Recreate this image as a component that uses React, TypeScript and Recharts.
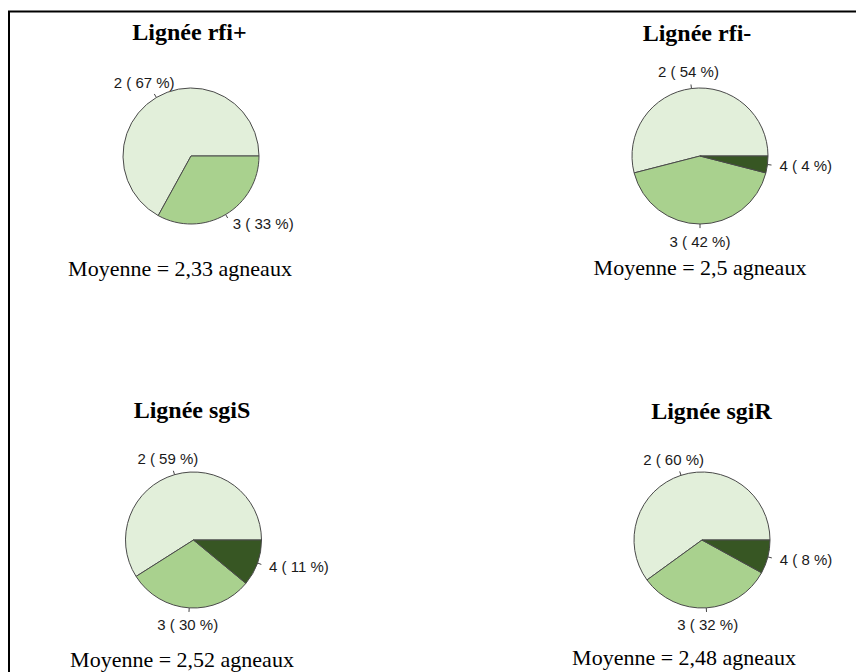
import React from 'react';
import { PieChart, Pie, Cell } from 'recharts';

const categories = ['2', '3', '4'];
const rfiPlus = [67, 33];
const rfiMinus = [54, 42, 4];
const sgiS = [59, 30, 11];
const sgiR = [60, 32, 8];
const titles = ['Lignée rfi+', 'Lignée rfi-', 'Lignée sgiS', 'Lignée sgiR'];
const means = ['2,33', '2,5', '2,52', '2,48'];

const COLORS = ['#E2EFDA', '#A9D18E', '#375623'];

const toData = (vals: number[]) => vals.map((v, i) => ({ name: categories[i], value: v }));

const panels = [
  { data: toData(rfiPlus), cx: 191, cy: 156, tx: 189.5, ty: 40, mx: 180, my: 276 },
  { data: toData(rfiMinus), cx: 700, cy: 156, tx: 697, ty: 41, mx: 700, my: 275 },
  { data: toData(sgiS), cx: 193.5, cy: 540, tx: 192, ty: 418, mx: 182, my: 667 },
  { data: toData(sgiR), cx: 702, cy: 540, tx: 711.5, ty: 419, mx: 684, my: 665 },
];

const RADIUS = 68;
const RAD = Math.PI / 180;

const renderLabel = (p: any) => {
  const { cx, cy, midAngle, outerRadius, name, value } = p;
  const c = Math.cos(-midAngle * RAD);
  const s = Math.sin(-midAngle * RAD);
  const x1 = cx + outerRadius * c;
  const y1 = cy + outerRadius * s;
  const x2 = cx + outerRadius * 1.06 * c;
  const y2 = cy + outerRadius * 1.06 * s;
  let tx: number;
  let ty: number;
  let anchor: 'start' | 'middle' | 'end';
  if (c > 0.35) {
    tx = cx + outerRadius * 1.15 * c + 2;
    ty = cy + outerRadius * 1.15 * s;
    anchor = 'start';
  } else {
    tx = cx + 92 * c;
    ty = cy + 85 * s;
    anchor = 'middle';
  }
  return (
    <g>
      <line x1={x1} y1={y1} x2={x2} y2={y2} stroke="#444" strokeWidth={1} />
      <text
        x={tx}
        y={ty}
        textAnchor={anchor}
        dominantBaseline="central"
        fill="#1a1a1a"
        fontSize={15}
        fontFamily="'Liberation Sans', Arial, sans-serif"
      >
        {`${name} ( ${value} %)`}
      </text>
    </g>
  );
};

export default function App() {
  return (
    <div style={{ position: 'absolute', left: 0, top: 0, width: 856, height: 672, background: '#fff', overflow: 'hidden' }}>
      <svg width={856} height={672} style={{ position: 'absolute', left: 0, top: 0 }}>
        <rect x={9} y={11.5} width={900} height={800} fill="none" stroke="#000" strokeWidth={2} />
        {panels.map((p, i) => (
          <g key={i}>
            <text
              x={p.tx}
              y={p.ty}
              textAnchor="middle"
              fontFamily="'Liberation Serif', 'Times New Roman', serif"
              fontWeight="bold"
              fontSize={24}
              fill="#000"
            >
              {titles[i]}
            </text>
            <text
              x={p.mx}
              y={p.my}
              textAnchor="middle"
              fontFamily="'Liberation Serif', 'Times New Roman', serif"
              fontSize={22}
              fill="#000"
            >
              {`Moyenne = ${means[i]} agneaux`}
            </text>
          </g>
        ))}
      </svg>
      <div style={{ position: 'absolute', left: 0, top: 0 }}>
        <PieChart width={856} height={672} margin={{ top: 0, right: 0, bottom: 0, left: 0 }}>
          {panels.map((p, i) => (
            <Pie
              key={i}
              data={p.data}
              dataKey="value"
              nameKey="name"
              cx={p.cx}
              cy={p.cy}
              outerRadius={RADIUS}
              startAngle={0}
              endAngle={360}
              stroke="#4a4a4a"
              strokeWidth={1}
              label={renderLabel}
              labelLine={false}
              isAnimationActive={false}
            >
              {p.data.map((d, j) => (
                <Cell key={j} fill={COLORS[j]} />
              ))}
            </Pie>
          ))}
        </PieChart>
      </div>
    </div>
  );
}
